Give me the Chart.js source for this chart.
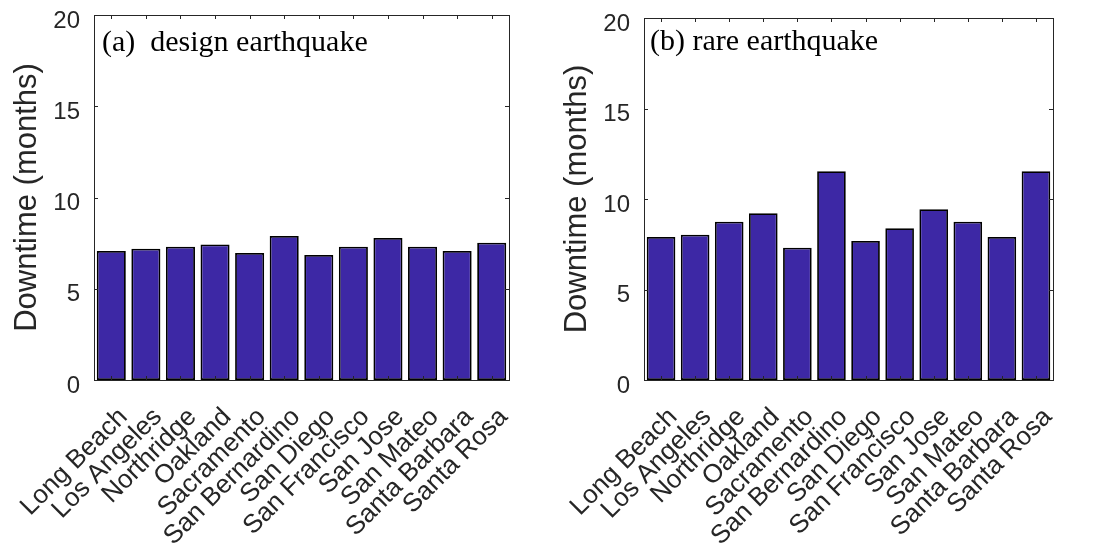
<!DOCTYPE html>
<html>
<head>
<meta charset="utf-8">
<script src="https://cdn.jsdelivr.net/npm/chart.js@4.4.0/dist/chart.umd.min.js"></script>
<style>
  html, body { margin: 0; padding: 0; background: #fff; }
  #wrap { position: relative; width: 1094px; height: 550px; }
  canvas { position: absolute; top: 0; }
</style>
</head>
<body>
<div id="wrap">
  <canvas id="designChart" width="547" height="550" style="left:0"></canvas>
  <canvas id="rareChart" width="547" height="550" style="left:547px"></canvas>
</div>
<script>
// data (months)
const cities = ['Long Beach', 'Los Angeles', 'Northridge', 'Oakland', 'Sacramento', 'San Bernardino',
                'San Diego', 'San Francisco', 'San Jose', 'San Mateo', 'Santa Barbara', 'Santa Rosa'];
const designDowntime = [7.07, 7.19, 7.30, 7.43, 6.96, 7.89, 6.85, 7.30, 7.78, 7.30, 7.07, 7.52];
const rareDowntime = [7.90, 8.03, 8.75, 9.21, 7.31, 11.53, 7.68, 8.38, 9.43, 8.75, 7.90, 11.53];
const yMin = 0, yMax = 20, yStep = 5;

const axisColor = '#262626';
const barColor = '#3d28a5';

// box around the plot area plus MATLAB style inward ticks
const framePlugin = {
    id: 'frame',
    afterDatasetsDraw(chart) {
        const ctx = chart.ctx, a = chart.chartArea;
        const x = chart.scales.x, y = chart.scales.y;
        ctx.save();
        ctx.strokeStyle = axisColor;
        ctx.lineWidth = 1;
        ctx.beginPath();
        y.ticks.forEach((t, i) => {
            const py = Math.round(y.getPixelForTick(i)) + 0.5;
            ctx.moveTo(a.left, py); ctx.lineTo(a.left + 4, py);
            ctx.moveTo(a.right, py); ctx.lineTo(a.right - 4, py);
        });
        x.ticks.forEach((t, i) => {
            const px = Math.round(x.getPixelForTick(i)) + 0.5;
            ctx.moveTo(px, a.bottom); ctx.lineTo(px, a.bottom - 4);
            ctx.moveTo(px, a.top); ctx.lineTo(px, a.top + 4);
        });
        ctx.stroke();
        ctx.strokeRect(Math.round(a.left) + 0.5, Math.round(a.top) + 0.5,
                       Math.round(a.right - a.left), Math.round(a.bottom - a.top));
        ctx.restore();
    }
};

const notePlugin = {
    id: 'note',
    afterDraw(chart, args, opts) {
        const ctx = chart.ctx, a = chart.chartArea;
        ctx.save();
        ctx.font = '30px "Liberation Serif", "Times New Roman", serif';
        ctx.fillStyle = '#000';
        ctx.textBaseline = 'alphabetic';
        ctx.fillText(opts.text, a.left + opts.dx, a.top + opts.dy);
        ctx.restore();
    }
};

function makeChart(id, values, note, area) {
    return new Chart(document.getElementById(id), {
        type: 'bar',
        data: {
            labels: cities,
            datasets: [{
                data: values,
                backgroundColor: barColor,
                borderColor: '#000',
                borderWidth: 1.8,
                borderSkipped: false,
                barPercentage: 0.84,
                categoryPercentage: 1
            }]
        },
        options: {
            responsive: false,
            animation: false,
            layout: { padding: { left: 0, top: area.top, right: 547 - area.right, bottom: 0 } },
            plugins: {
                legend: { display: false },
                tooltip: { enabled: false },
                note: note
            },
            scales: {
                x: {
                    grid: { display: false },
                    border: { display: false },
                    ticks: {
                        autoSkip: false,
                        minRotation: 45,
                        maxRotation: 45,
                        padding: 14,
                        labelOffset: 12,
                        color: axisColor,
                        font: { family: '"Liberation Sans", Arial, sans-serif', size: 26 }
                    },
                    afterFit: s => {
                        s.height = 550 - area.bottom;
                        s.paddingLeft = 0; s.paddingRight = 0;
                    }
                },
                y: {
                    min: yMin,
                    max: yMax,
                    grid: { display: false, drawTicks: false },
                    border: { display: false },
                    ticks: {
                        stepSize: yStep,
                        padding: 14,
                        labelOffset: 6,
                        color: axisColor,
                        font: { family: '"Liberation Sans", Arial, sans-serif', size: 24 }
                    },
                    title: {
                        display: true,
                        text: 'Downtime (months)',
                        color: axisColor,
                        padding: { top: area.titlePad, bottom: 0 },
                        font: { family: '"Liberation Sans", Arial, sans-serif', size: 31, weight: 'normal' }
                    },
                    afterFit: s => {
                        s.width = area.left;
                        s.paddingTop = 0; s.paddingBottom = 0;
                    }
                }
            }
        },
        plugins: [framePlugin, notePlugin]
    });
}

makeChart('designChart', designDowntime,
    { text: '(a)  design earthquake', dx: 8, dy: 36 },
    { left: 94, right: 509, top: 15, bottom: 380, titlePad: 9 });
makeChart('rareChart', rareDowntime,
    { text: '(b) rare earthquake', dx: 6, dy: 32 },
    { left: 97, right: 506, top: 18, bottom: 380, titlePad: 12 });
</script>
</body>
</html>
